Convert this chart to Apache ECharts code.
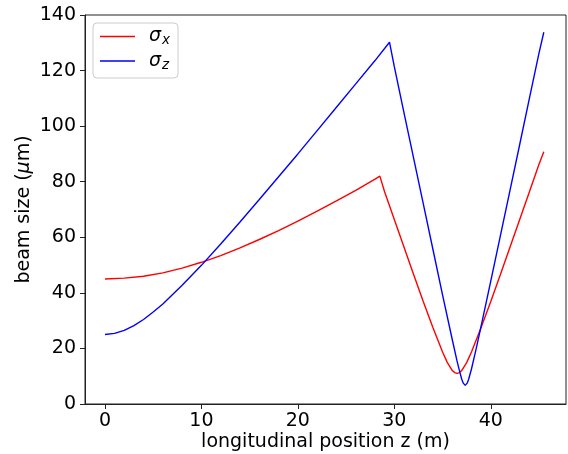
<!DOCTYPE html>
<html>
<head>
<meta charset="utf-8">
<script src="https://cdn.jsdelivr.net/npm/echarts@6/dist/echarts.min.js"></script>
<style>html,body{margin:0;padding:0;background:#fff;}#c{width:568px;height:454px;}</style>
</head>
<body>
<div id="c"></div>
<script>
// sigma_x (red)
var zX = [0, 2, 4, 6, 8, 10, 12, 14, 16, 18, 20, 22, 24, 26, 28, 28.5,
          29, 30, 31, 32, 33, 34, 35, 35.5, 36, 36.25, 36.5, 36.75, 37, 37.5, 38, 39, 40, 41, 42, 43, 44, 45, 45.5];
var sigmaX = [45.0, 45.3, 46.0, 47.2, 48.9, 51.0, 53.4, 56.2, 59.2, 62.4, 65.8, 69.4, 73.1, 76.9, 80.9, 82.0,
              76.3, 66.4, 56.5, 46.6, 36.9, 27.5, 18.7, 14.9, 12.1, 11.3, 11.0, 11.3, 12.1, 14.9, 18.7, 27.5, 36.9, 46.6, 56.5, 66.4, 76.3, 86.3, 90.8];
// sigma_z (blue)
var zZ = [0, 1, 2, 3, 4, 5, 6, 8, 10, 12, 14, 16, 18, 20, 22, 24, 26, 28, 29.5,
          30, 31, 32, 33, 34, 35, 36, 36.5, 36.75, 37, 37.15, 37.35, 37.55, 37.7, 38, 38.25, 38.5, 39, 40, 41, 42, 43, 44, 45, 45.5];
var sigmaZ = [25.0, 25.4, 26.5, 28.2, 30.4, 33.1, 36.0, 42.7, 49.9, 57.6, 65.5, 73.6, 81.8, 90.0, 98.4, 106.8, 115.2, 123.6, 130.2,
              121.4, 104.9, 88.5, 72.1, 55.7, 39.3, 23.3, 15.5, 12.0, 8.8, 7.5, 6.7, 7.5, 8.8, 12.6, 16.3, 20.1, 28.0, 44.2, 60.6, 77.0, 93.4, 109.9, 126.3, 133.8];
var xTicks = [0, 10, 20, 30, 40];
var yTicks = [0, 20, 40, 60, 80, 100, 120, 140];

function pairs(xs, ys) { return xs.map(function (x, i) { return [x, ys[i]]; }); }

var FONT = 'DejaVu Sans';
var chart = echarts.init(document.getElementById('c'), null, {renderer: 'canvas'});
chart.setOption({
  animation: false,
  backgroundColor: '#fff',
  grid: {left: 85, right: 2, top: 15, bottom: 50, containLabel: false, outerBoundsMode: 'none',
         show: true, borderColor: '#222', borderWidth: 1, backgroundColor: 'transparent'},
  legend: {
    orient: 'vertical', left: 93, top: 23,
    icon: 'rect', itemWidth: 35, itemHeight: 1.5, itemGap: 4,
    padding: [4, 8, 6, 7],
    backgroundColor: 'rgba(255,255,255,0.8)', borderColor: '#cccccc', borderWidth: 1, borderRadius: 4,
    formatter: function (name) { return name === 'sx' ? '{a|σ}{b|x}' : '{a|σ}{b|z}'; },
    textStyle: {
      padding: [0, 0, 0, 9],
      rich: {
        a: {fontFamily: FONT, fontSize: 19, fontStyle: 'italic', color: '#000', lineHeight: 22, verticalAlign: 'middle'},
        b: {fontFamily: FONT, fontSize: 13.5, fontStyle: 'italic', color: '#000', lineHeight: 13, verticalAlign: 'bottom', padding: [0, 0, 0, 1]}
      }
    },
    data: ['sx', 'sz']
  },
  xAxis: {
    type: 'value', min: -2.07, max: 47.8,
    name: 'longitudinal position z (m)', nameLocation: 'middle', nameGap: 29, nameMoveOverlap: false,
    nameTextStyle: {fontFamily: FONT, fontSize: 19, color: '#000'},
    axisLine: {show: true, onZero: false, lineStyle: {color: '#222', width: 1}},
    axisTick: {show: true, length: 5, lineStyle: {color: '#222'}, customValues: xTicks},
    axisLabel: {fontFamily: FONT, fontSize: 19, color: '#000', margin: 8, customValues: xTicks},
    splitLine: {show: false}
  },
  yAxis: {
    type: 'value', min: 0, max: 140, interval: 20,
    name: '{t|beam size (}{m|μ}{t|m)}', nameLocation: 'middle', nameGap: 51, nameRotate: 90, nameMoveOverlap: false,
    nameTextStyle: {
      rich: {
        t: {fontFamily: FONT, fontSize: 19, color: '#000'},
        m: {fontFamily: FONT, fontSize: 19, color: '#000', fontStyle: 'italic'}
      }
    },
    axisLine: {show: true, onZero: false, lineStyle: {color: '#222', width: 1}},
    axisTick: {show: true, length: 5, lineStyle: {color: '#222'}},
    axisLabel: {fontFamily: FONT, fontSize: 19, color: '#000', margin: 9},
    splitLine: {show: false}
  },
  series: [
    {name: 'sx', type: 'line', data: pairs(zX, sigmaX), symbol: 'none', smooth: false,
     lineStyle: {color: '#ff0000', width: 1.4}, itemStyle: {color: '#ff0000'}},
    {name: 'sz', type: 'line', data: pairs(zZ, sigmaZ), symbol: 'none', smooth: false,
     lineStyle: {color: '#0000ff', width: 1.4}, itemStyle: {color: '#0000ff'}}
  ]
});
</script>
</body>
</html>
